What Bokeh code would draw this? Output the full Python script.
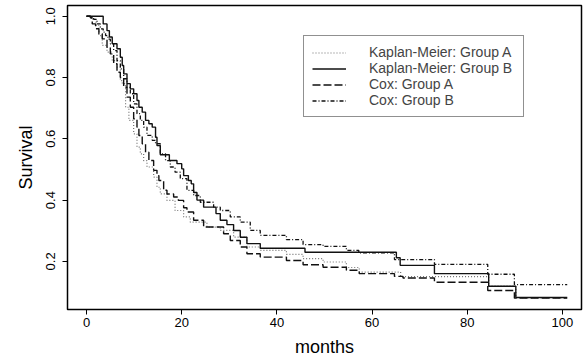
from bokeh.plotting import figure
from bokeh.models import Range1d, Legend, LegendItem, FixedTicker, PrintfTickFormatter
from bokeh.embed import file_html
from bokeh.resources import INLINE

# ---- data ----
km_a_t = [0, 1.0, 2.0, 2.6, 3.3, 4.3, 5.4, 6.4, 7.1, 7.5, 8.2, 8.9, 9.9, 10.6, 11.3, 12.0, 12.7,
          14.1, 14.8, 15.5, 16.9, 18.6, 20.4, 21.8, 25.3, 28.1, 30.9, 33.7, 36.5, 42.0, 45.5,
          49.7, 54.6, 57.3, 66.0, 84.5, 90.2, 101.0]
km_a_s = [1.0, 0.99, 0.97, 0.937, 0.905, 0.883, 0.855, 0.834, 0.79, 0.78, 0.703, 0.66, 0.616,
          0.573, 0.551, 0.529, 0.508, 0.475, 0.442, 0.42, 0.399, 0.366, 0.345, 0.328, 0.312,
          0.301, 0.279, 0.247, 0.236, 0.223, 0.209, 0.198, 0.18, 0.165, 0.15, 0.119, 0.082, 0.082]

km_b_t = [0, 3.5, 4.3, 4.8, 5.4, 6.4, 7.1, 7.5, 7.8, 8.5, 9.2, 9.9, 10.6, 11.0, 11.7, 12.4, 13.1,
          13.8, 14.5, 14.8, 15.5, 17.4, 19.0, 20.0, 20.4, 21.4, 22.0, 22.5, 23.2, 24.6, 27.2,
          28.1, 29.5, 30.9, 32.3, 33.7, 36.5, 45.9, 65.1, 65.9, 73.1, 84.5, 90.2, 101.0]
km_b_s = [1.0, 0.975, 0.953, 0.932, 0.91, 0.894, 0.866, 0.839, 0.812, 0.78, 0.763, 0.747, 0.725,
          0.703, 0.687, 0.66, 0.649, 0.638, 0.605, 0.578, 0.548, 0.529, 0.519, 0.502, 0.48,
          0.464, 0.453, 0.425, 0.40, 0.377, 0.356, 0.334, 0.32, 0.301, 0.279, 0.258, 0.243,
          0.23, 0.212, 0.187, 0.16, 0.119, 0.082, 0.082]

cox_a_t = [0, 0.8, 1.2, 1.9, 2.6, 3.3, 4.3, 5.0, 5.7, 6.4, 7.1, 7.8, 8.5, 9.2, 9.9, 10.6, 11.0,
           11.7, 12.4, 13.1, 14.1, 14.8, 15.2, 16.2, 16.9, 18.3, 19.3, 20.4, 21.1, 22.5, 24.6,
           28.8, 30.2, 32.3, 33.7, 36.5, 42.0, 45.5, 49.7, 54.6, 57.3, 64.7, 66.5, 73.1, 84.3,
           89.9, 101.0]
cox_a_s = [1.0, 0.995, 0.975, 0.959, 0.943, 0.926, 0.899, 0.877, 0.845, 0.817, 0.80, 0.768,
           0.736, 0.703, 0.665, 0.638, 0.611, 0.584, 0.556, 0.529, 0.497, 0.48, 0.464, 0.432,
           0.42, 0.41, 0.399, 0.375, 0.361, 0.334, 0.312, 0.29, 0.268, 0.247, 0.225, 0.214,
           0.203, 0.189, 0.181, 0.171, 0.16, 0.151, 0.146, 0.132, 0.105, 0.08, 0.08]

cox_b_t = [0, 1.0, 1.5, 2.2, 2.9, 3.5, 4.0, 4.5, 5.0, 5.7, 6.4, 7.1, 7.8, 8.5, 9.2, 9.9, 10.6,
           11.3, 12.0, 12.7, 13.8, 14.5, 15.5, 16.6, 17.6, 18.6, 19.7, 21.1, 22.5, 23.9, 26.7,
           28.1, 30.2, 32.3, 34.4, 36.5, 42.0, 45.5, 49.7, 54.6, 57.2, 64.7, 73.1, 84.3, 89.9,
           101.0]
cox_b_s = [1.0, 0.995, 0.99, 0.975, 0.959, 0.948, 0.937, 0.925, 0.91, 0.888, 0.855, 0.828,
           0.796, 0.768, 0.747, 0.714, 0.682, 0.66, 0.638, 0.611, 0.595, 0.584, 0.551, 0.529,
           0.508, 0.491, 0.47, 0.432, 0.415, 0.393, 0.377, 0.366, 0.345, 0.328, 0.301, 0.285,
           0.271, 0.255, 0.249, 0.236, 0.228, 0.206, 0.19, 0.158, 0.124, 0.124]

x_ticks = [0, 20, 40, 60, 80, 100]
y_ticks = [0.2, 0.4, 0.6, 0.8, 1.0]
labels = ["Kaplan-Meier: Group A", "Kaplan-Meier: Group B", "Cox: Group A", "Cox: Group B"]

FONT = "Liberation Sans"

p = figure(width=583, height=364, output_backend="svg", toolbar_location=None,
           x_range=Range1d(-4, 104), y_range=Range1d(0.043, 1.035),
           min_border_left=67, min_border_right=2, min_border_top=5, min_border_bottom=55)
p.background_fill_color = "white"
p.border_fill_color = "white"
p.grid.visible = False
p.outline_line_color = "black"
p.outline_line_width = 1.5

r1 = p.step(km_a_t, km_a_s, mode="after", line_color="#707070", line_width=1.2, line_dash="1 2")
r2 = p.step(km_b_t, km_b_s, mode="after", line_color="#111111", line_width=1.4)
r3 = p.step(cox_a_t, cox_a_s, mode="after", line_color="#111111", line_width=1.4, line_dash="8 3")
r4 = p.step(cox_b_t, cox_b_s, mode="after", line_color="#111111", line_width=1.3, line_dash="4 2 1 2")

for ax in (p.xaxis[0], p.yaxis[0]):
    ax.axis_line_color = None
    ax.major_tick_line_color = "black"
    ax.major_tick_line_width = 1
    ax.major_tick_out = 5
    ax.major_tick_in = 0
    ax.minor_tick_line_color = None
    ax.major_label_text_font = FONT
    ax.major_label_text_font_size = "13px"
    ax.major_label_text_color = "black"
    ax.axis_label_text_font = FONT
    ax.axis_label_text_font_size = "18px"
    ax.axis_label_text_font_style = "normal"
    ax.axis_label_text_color = "black"

p.xaxis.ticker = FixedTicker(ticks=x_ticks)
p.yaxis.ticker = FixedTicker(ticks=y_ticks)
p.yaxis.formatter = PrintfTickFormatter(format="%.1f")
p.yaxis.major_label_orientation = "vertical"
p.xaxis.axis_label = "months"
p.yaxis.axis_label = "Survival"
p.xaxis.major_label_standoff = 3
p.xaxis.axis_label_standoff = 7
p.yaxis.major_label_standoff = 7
p.yaxis.axis_label_standoff = 8

legend = Legend(items=[LegendItem(label=labels[0], renderers=[r1]),
                       LegendItem(label=labels[1], renderers=[r2]),
                       LegendItem(label=labels[2], renderers=[r3]),
                       LegendItem(label=labels[3], renderers=[r4])],
                location=(236, 192), orientation="vertical",
                padding=8, spacing=0, margin=0,
                glyph_width=34, glyph_height=15, label_height=15, label_width=146,
                label_standoff=23,
                label_text_font=FONT, label_text_font_size="14px",
                border_line_color="#222222", border_line_width=1.2,
                background_fill_color="white", background_fill_alpha=1)
p.add_layout(legend, "center")

open("out.html", "w").write(file_html(p, INLINE))
